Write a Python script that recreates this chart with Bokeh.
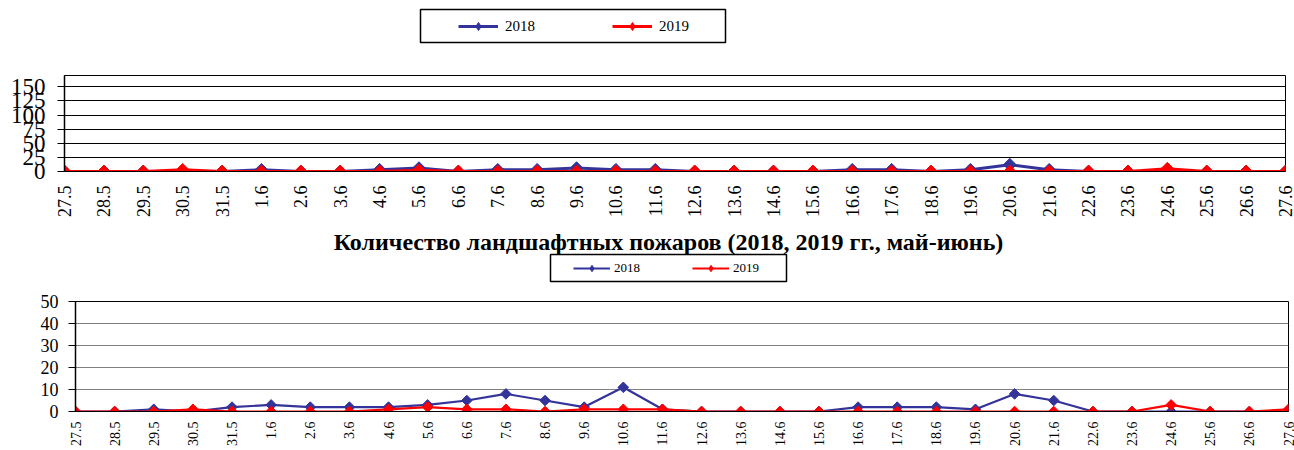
import math
from bokeh.plotting import figure
from bokeh.layouts import column
from bokeh.models import Range1d, FixedTicker, Legend, LegendItem
from bokeh.embed import file_html
from bokeh.resources import INLINE

labels = ["27.5", "28.5", "29.5", "30.5", "31.5",
          "1.6", "2.6", "3.6", "4.6", "5.6", "6.6", "7.6", "8.6", "9.6", "10.6",
          "11.6", "12.6", "13.6", "14.6", "15.6", "16.6", "17.6", "18.6", "19.6",
          "20.6", "21.6", "22.6", "23.6", "24.6", "25.6", "26.6", "27.6"]

top_2018 = [0, 0, 0, 0, 0, 3, 0, 0, 3, 6, 0, 3, 3, 6, 3, 3, 0, 0, 0, 0,
            3, 3, 0, 3, 12, 3, 0, 0, 0, 0, 0, 0]
top_2019 = [0, 0, 0, 3, 0, 0, 0, 0, 0, 2, 0, 0, 0, 0, 0, 0, 0, 0, 0, 0,
            0, 0, 0, 0, 0, 0, 0, 0, 5, 0, 0, 0]

bot_2018 = [0, 0, 1, 0, 2, 3, 2, 2, 2, 3, 5, 8, 5, 2, 11, 1, 0, 0, 0, 0,
            2, 2, 2, 1, 8, 5, 0, 0, 0, 0, 0, 0]
bot_2019 = [0, 0, 0, 1, 0, 0, 0, 0, 1, 2, 1, 1, 0, 1, 1, 1, 0, 0, 0, 0,
            0, 0, 0, 0, 0, 0, 0, 0, 3, 0, 0, 1]

top_ticks = [0, 25, 50, 75, 100, 125, 150]
bot_ticks = [0, 10, 20, 30, 40, 50]

series_names = ["2018", "2019"]
title_text = "Количество ландшафтных пожаров (2018, 2019 гг., май-июнь)"

BLUE = "#333399"
RED = "#FF0000"
FONT = "Liberation Serif"
W = 1294

xs = list(range(len(labels)))


def make_fig(height, ymax, yticks, mb, grid_color, ylab_size, xlab_size,
             ylab_standoff, xlab_standoff):
    p = figure(width=W, height=height, output_backend="svg", toolbar_location=None,
               x_range=Range1d(0, len(labels) - 1), y_range=Range1d(0, ymax),
               min_border_left=mb[0], min_border_right=mb[1], min_border_top=mb[2],
               min_border_bottom=mb[3], frame_align=False)
    p.background_fill_color = "white"
    p.border_fill_color = "white"
    p.outline_line_color = "black"
    p.outline_line_width = 1
    p.xgrid.visible = False
    p.ygrid.grid_line_color = grid_color
    p.ygrid.grid_line_width = 1
    p.yaxis.ticker = FixedTicker(ticks=yticks)
    p.xaxis.ticker = FixedTicker(ticks=xs)
    p.xaxis.major_label_overrides = {i: l for i, l in enumerate(labels)}
    p.xaxis.major_label_orientation = math.pi / 2
    p.yaxis.minor_tick_line_color = None
    p.xaxis.minor_tick_line_color = None
    p.yaxis.major_tick_out = 7
    p.yaxis.major_tick_in = 0
    p.yaxis.major_tick_line_color = "black"
    p.xaxis.major_tick_out = 0
    p.xaxis.major_tick_in = 0
    p.yaxis.axis_line_color = "black"
    p.yaxis.axis_line_width = 1.5
    p.xaxis.axis_line_color = "black"
    p.yaxis.major_label_text_font = FONT
    p.xaxis.major_label_text_font = FONT
    p.yaxis.major_label_text_font_size = f"{ylab_size}px"
    p.xaxis.major_label_text_font_size = f"{xlab_size}px"
    p.yaxis.major_label_text_color = "black"
    p.xaxis.major_label_text_color = "black"
    p.yaxis.major_label_standoff = ylab_standoff
    p.xaxis.major_label_standoff = xlab_standoff
    return p


def add_series(p, y18, y19, lw, msize):
    p.line(xs, y18, line_color=BLUE, line_width=lw)
    p.scatter(xs, y18, marker="square", angle=math.pi / 4, size=msize,
              fill_color=BLUE, line_color=BLUE)
    p.line(xs, y19, line_color=RED, line_width=lw)
    p.scatter(xs, y19, marker="square", angle=math.pi / 4, size=msize,
              fill_color=RED, line_color=RED)


def legend_fig(height, mb, lw, msize, loc, spacing, gw, gh, lwid, lh, standoff,
               fsize, title=None):
    kw = dict(width=W, height=height, output_backend="svg", toolbar_location=None,
              x_range=Range1d(0, 1), y_range=Range1d(0, 1),
              x_axis_location=None, y_axis_location=None,
              min_border_left=mb[0], min_border_right=mb[1], min_border_top=mb[2],
              min_border_bottom=mb[3], frame_align=False)
    if title:
        kw["title"] = title
    f = figure(**kw)
    f.xgrid.visible = False
    f.ygrid.visible = False
    f.outline_line_color = "black"
    f.outline_line_width = 1.5
    f.background_fill_color = "white"
    f.border_fill_color = "white"
    # sample glyphs for the legend keys (placed outside the visible range)
    rl1 = f.line([-5, -4], [-5, -5], line_color=BLUE, line_width=lw)
    rm1 = f.scatter([-5], [-5], marker="diamond", size=msize,
                    fill_color=BLUE, line_color=BLUE)
    rl2 = f.line([-5, -4], [-5, -5], line_color=RED, line_width=lw)
    rm2 = f.scatter([-5], [-5], marker="diamond", size=msize,
                    fill_color=RED, line_color=RED)
    leg = Legend(items=[LegendItem(label=series_names[0], renderers=[rl1, rm1]),
                        LegendItem(label=series_names[1], renderers=[rl2, rm2])],
                 orientation="horizontal", location=loc, padding=0, margin=0,
                 spacing=spacing, glyph_width=gw, glyph_height=gh, label_width=lwid,
                 label_height=lh, label_standoff=standoff, label_text_font=FONT,
                 label_text_font_size=f"{fsize}px", label_text_color="black",
                 border_line_alpha=0, background_fill_alpha=0)
    f.add_layout(leg, "center")
    return f


# ---------- top legend (frame = legend box, page x 420..725, y 9..42) ----------
leg1 = legend_fig(44, (420, W - 725, 9, 2), 3, 17, (38, 6), 57, 40, 20, 50, 20, 7, 15)

# ---------- top chart (page y 44..220) ----------
p1 = make_fig(176, 170, top_ticks, (64, 9, 31, 48), "black", 23, 18, 12, 14)
add_series(p1, top_2018, top_2019, 3, 9)

# ---------- title + bottom legend (page y 220..283, box 254..281) ----------
leg2 = legend_fig(63, (550, W - 786, 34, 2), 2.2, 12, (23, 5.5), 38, 37, 16, 40, 16, 4, 13,
                  title=title_text)
leg2.title.align = "center"
leg2.title.standoff = 0
leg2.title.text_font = FONT
leg2.title.text_font_size = "24px"
leg2.title.text_font_style = "bold"
leg2.title.text_color = "black"

# ---------- bottom chart (page y 283..450) ----------
p2 = make_fig(167, 50, bot_ticks, (75, 6, 18, 39), "#808080", 18, 14, 10, 10)
add_series(p2, bot_2018, bot_2019, 2.2, 7.5)

layout = column(leg1, p1, leg2, p2, spacing=0)
open("out.html", "w").write(file_html(layout, INLINE))
